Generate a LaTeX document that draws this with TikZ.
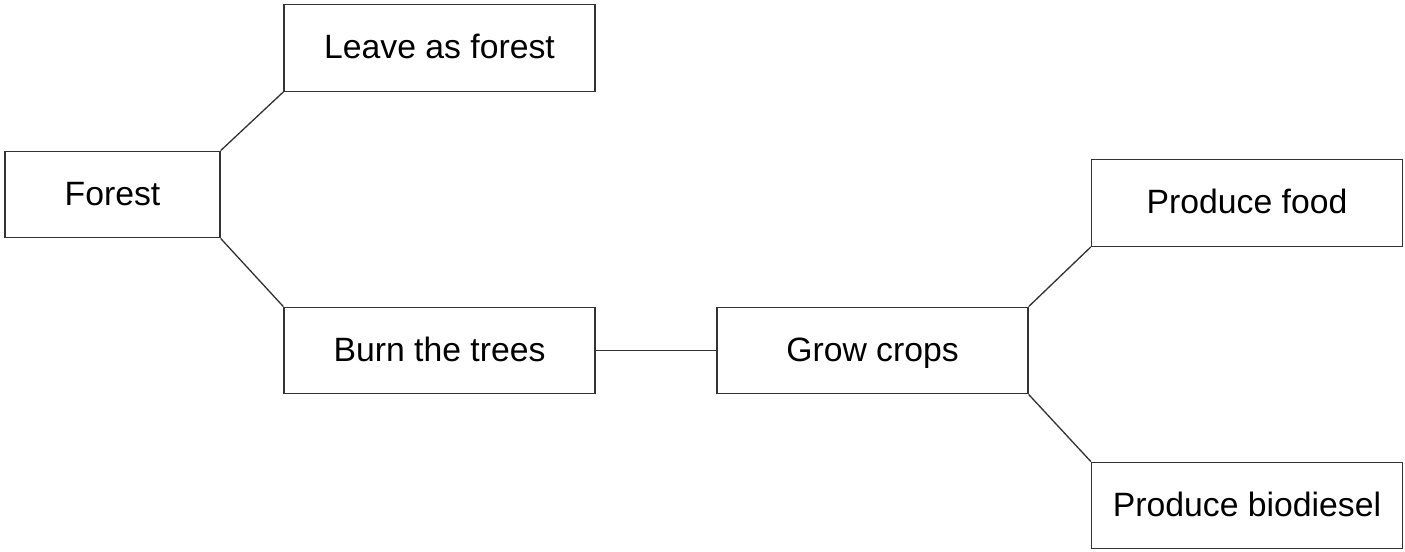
\documentclass[tikz,border=0pt]{standalone}
\usepackage{fontspec}
\setmainfont{Liberation Sans}
\usetikzlibrary{positioning}

\begin{document}
\begin{tikzpicture}[x=0.02cm, y=-0.02cm, line/.style={draw=black!80, line width=0.75pt}, block/.style={rectangle, draw=black!80, line width=0.75pt, minimum width=6.22cm, minimum height=1.73cm, inner sep=0pt, text height=15pt, text depth=3pt, align=center, font=\fontsize{19.2}{23}\selectfont}]
\useasboundingbox (0,0) rectangle (1405,551);
\node[block, minimum width=4.3cm] (forest) at (112.5,194.5) {Forest};
\node[block] (leave) at (439.5,48) {Leave as forest};
\node[block] (burn) at (439.5,350.5) {Burn the trees};
\node[block] (crops) at (872.5,350.5) {Grow crops};
\node[block] (food) at (1247,203) {Produce food};
\node[block] (diesel) at (1247,505.5) {Produce biodiesel};
\draw[line] (forest.north east) -- (leave.south west);
\draw[line] (forest.south east) -- (burn.north west);
\draw[line] (burn) -- (crops);
\draw[line] (crops.north east) -- (food.south west);
\draw[line] (crops.south east) -- (diesel.north west);
\end{tikzpicture}
\end{document}
